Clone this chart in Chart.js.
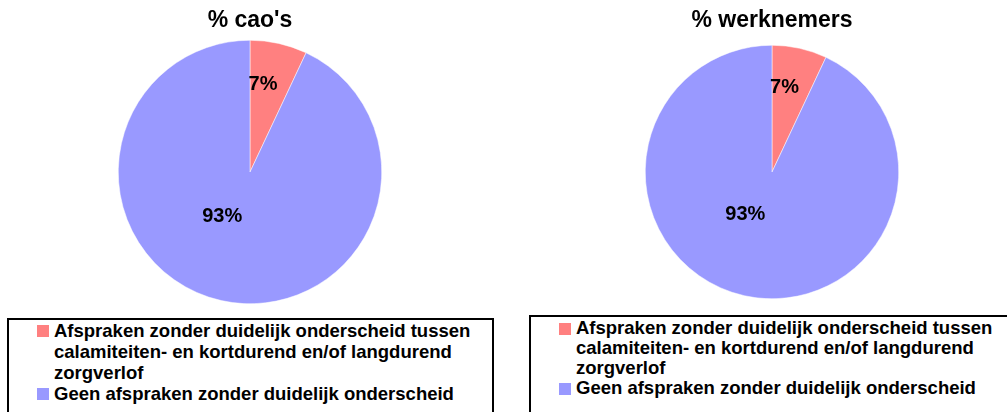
<!DOCTYPE html>
<html>
<head>
<meta charset="utf-8">
<script src="https://cdn.jsdelivr.net/npm/chart.js@4.4.1/dist/chart.umd.min.js"></script>
<style>
  html, body { margin: 0; padding: 0; background: #fff; overflow: hidden; }
  body { width: 1007px; height: 412px; position: relative; font-family: 'Liberation Sans', Arial, sans-serif; }
  .pie { position: absolute; top: 0; width: 500px; }
  .legend-box { position: absolute; bottom: -40px; border-style: solid solid none solid; border-width: 2px; border-color: #000; background: #fff; }
  .legend-item { position: relative; padding-left: 45px; width: 425px; font-weight: bold; font-size: 18.5px; color: #000; }
  .legend-item .swatch { position: absolute; left: 28px; top: 5px; width: 12px; height: 12px; }
</style>
</head>
<body>
<div class="pie" id="leftWrap" style="left:0; height:310px;"><canvas id="cao-chart"></canvas></div>
<div class="pie" id="rightWrap" style="left:522px; height:300px;"><canvas id="werknemers-chart"></canvas></div>
<div class="legend-box" id="legend-left" style="left:7px; top:318px; width:483px;"></div>
<div class="legend-box" id="legend-right" style="left:529px; top:315px; width:500px; padding-top:1px;"></div>

<script>
const categories = [
  'Afspraken zonder duidelijk onderscheid tussen calamiteiten- en kortdurend en/of langdurend zorgverlof',
  'Geen afspraken zonder duidelijk onderscheid'
];
const caoValues = [7, 93];
const werknemersValues = [7, 93];
const chartTitles = ["% cao's", '% werknemers'];
const sliceColors = ['#FF8080', '#9999FF'];

// draws the percentage labels inside the slices
const sliceLabels = {
  id: 'sliceLabels',
  afterDatasetsDraw(chart, args, opts) {
    const ctx = chart.ctx;
    const meta = chart.getDatasetMeta(0);
    const data = chart.data.datasets[0].data;
    ctx.save();
    ctx.font = 'bold 20px "Liberation Sans", Arial, sans-serif';
    ctx.fillStyle = '#000';
    ctx.textAlign = 'center';
    ctx.textBaseline = 'middle';
    meta.data.forEach((arc, i) => {
      const p = arc.getProps(['x', 'y', 'startAngle', 'endAngle', 'outerRadius'], true);
      const a = p.startAngle + (p.endAngle - p.startAngle) * opts.spanFrac[i];
      const r = p.outerRadius * opts.radiusFrac[i];
      ctx.fillText(data[i] + '%', p.x + Math.cos(a) * r, p.y + Math.sin(a) * r + 1);
    });
    ctx.restore();
  }
};

function makePie(canvas, values, title, pad) {
  return new Chart(canvas, {
    type: 'pie',
    data: {
      labels: categories,
      datasets: [{
        data: values,
        backgroundColor: sliceColors,
        borderColor: '#fff',
        borderWidth: 0.5
      }]
    },
    options: {
      responsive: true,
      maintainAspectRatio: false,
      animation: false,
      layout: { padding: { bottom: pad.bottom } },
      plugins: {
        legend: { display: false },
        tooltip: { enabled: false },
        title: {
          display: true,
          text: title,
          color: '#000',
          font: { family: '"Liberation Sans", Arial, sans-serif', size: 23, weight: 'bold' },
          padding: { top: pad.top, bottom: pad.titleBottom }
        },
        sliceLabels: { spanFrac: [0.33, 0.56], radiusFrac: [0.68, 0.39] }
      }
    },
    plugins: [sliceLabels]
  });
}

makePie(document.getElementById('cao-chart'), caoValues, chartTitles[0], { top: 7.2, titleBottom: 5.2, bottom: 6 });
makePie(document.getElementById('werknemers-chart'), werknemersValues, chartTitles[1], { top: 7.2, titleBottom: 10.2, bottom: 1 });

// html legends under each pie
function buildLegend(el, lineHeight) {
  categories.forEach((label, i) => {
    const item = document.createElement('div');
    item.className = 'legend-item';
    item.style.lineHeight = lineHeight + 'px';
    const sw = document.createElement('span');
    sw.className = 'swatch';
    sw.style.background = sliceColors[i];
    item.appendChild(sw);
    item.appendChild(document.createTextNode(label));
    el.appendChild(item);
  });
}
buildLegend(document.getElementById('legend-left'), 21);
buildLegend(document.getElementById('legend-right'), 20);
</script>
</body>
</html>
